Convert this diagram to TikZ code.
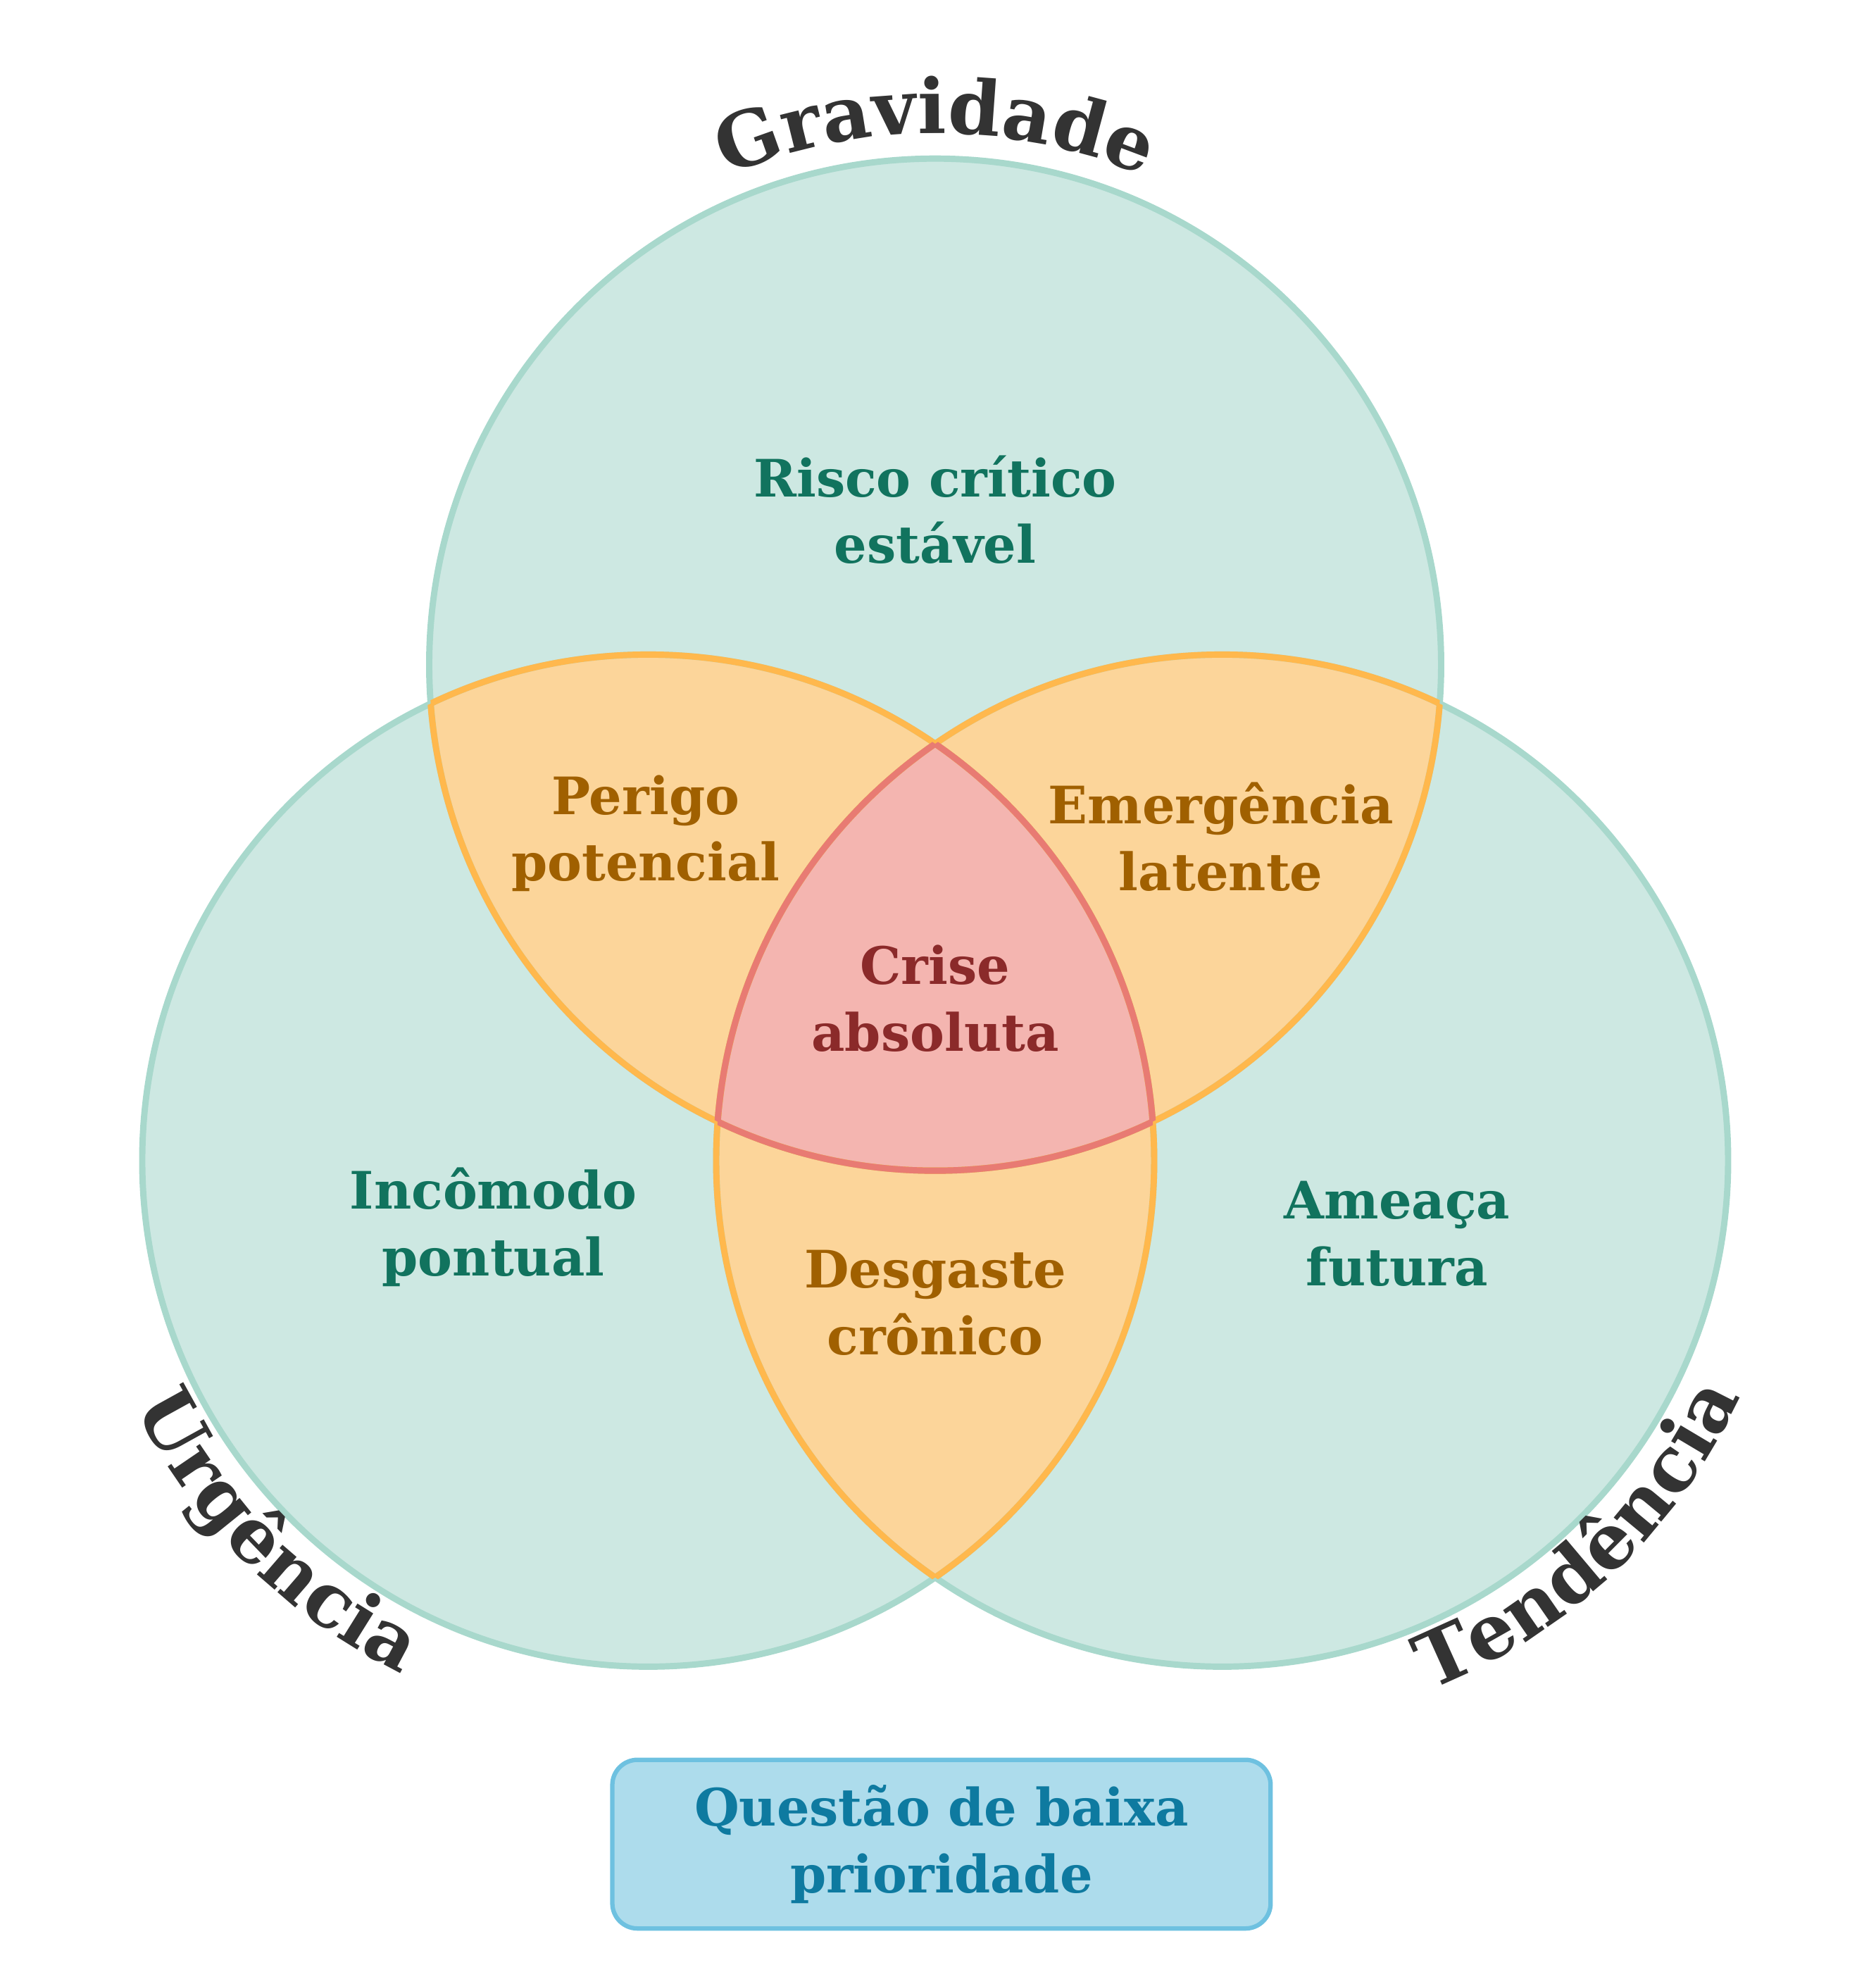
\documentclass[tikz,border=0pt]{standalone}
\usepackage{fontspec}
\setmainfont{DejaVu Serif}
\usetikzlibrary{decorations.text}
\definecolor{tealfill}{HTML}{CDE8E2}
\definecolor{tealline}{HTML}{A8D8CC}
\definecolor{orfill}{HTML}{FCD59A}
\definecolor{orline}{HTML}{FFB84D}
\definecolor{redfill}{HTML}{F4B5B0}
\definecolor{redline}{HTML}{E87B73}
\definecolor{tealtxt}{HTML}{11735E}
\definecolor{ortxt}{HTML}{A06000}
\definecolor{redtxt}{HTML}{8B2A2A}
\definecolor{boxfill}{HTML}{ADDCEC}
\definecolor{boxline}{HTML}{6EC1E0}
\definecolor{boxtxt}{HTML}{0E7AA0}
\definecolor{ttl}{HTML}{333333}
\tikzset{
 lbl/.style={align=center,font=\fontsize{41}{53}\selectfont\bfseries},
 ring/.style={line width=5pt}
}
\begin{document}
\begin{tikzpicture}[x=1pt,y=1pt]
\useasboundingbox (0,0) rectangle (1490,1561);
\def\R{402}
\coordinate (G) at (743,1033);
\coordinate (U) at (515,639);
\coordinate (T) at (971,639);
% fills
\fill[tealfill] (G) circle (\R) (U) circle (\R) (T) circle (\R);
\begin{scope}\clip (G) circle (\R); \fill[orfill] (U) circle (\R); \fill[orfill] (T) circle (\R);\end{scope}
\begin{scope}\clip (U) circle (\R); \fill[orfill] (T) circle (\R);\end{scope}
\begin{scope}\clip (G) circle (\R); \clip (U) circle (\R); \fill[redfill] (T) circle (\R);\end{scope}
% outlines
\draw[ring,tealline] (G) circle (\R) (U) circle (\R) (T) circle (\R);
\begin{scope}\clip (G) circle (\R); \draw[ring,orline] (U) circle (\R) (T) circle (\R);\end{scope}
\begin{scope}\clip (U) circle (\R); \draw[ring,orline] (G) circle (\R) (T) circle (\R);\end{scope}
\begin{scope}\clip (T) circle (\R); \draw[ring,orline] (G) circle (\R) (U) circle (\R);\end{scope}
\begin{scope}\clip (G) circle (\R); \clip (U) circle (\R); \draw[ring,redline] (T) circle (\R);\end{scope}
\begin{scope}\clip (G) circle (\R); \clip (T) circle (\R); \draw[ring,redline] (U) circle (\R);\end{scope}
\begin{scope}\clip (U) circle (\R); \clip (T) circle (\R); \draw[ring,redline] (G) circle (\R);\end{scope}
% titles
\path[decorate,decoration={text along path,text align=center,
  text={|\fontsize{60}{60}\bfseries\color{ttl}|Gravidade}}]
  ([shift={(122:422)}]G) arc[start angle=122,end angle=58,radius=422];
\path[decorate,decoration={text along path,text align=center,
  text={|\fontsize{60}{60}\bfseries\color{ttl}|Urgência}}]
  ([shift={(198:452)}]U) arc[start angle=198,end angle=252,radius=452];
\path[decorate,decoration={text along path,text align=center,
  text={|\fontsize{60}{60}\bfseries\color{ttl}|Tendência}}]
  ([shift={(284:452)}]T) arc[start angle=284,end angle=343,radius=452];
% labels
\node[lbl,text=tealtxt] (rc) at (743,1156) {Risco crítico\\estável};
\node[lbl,text=ortxt] (pp) at (513,899) {Perigo\\potencial};
\node[lbl,text=ortxt] (el) at (970,896) {Emergência\\latente};
\node[lbl,text=redtxt] (ca) at (743,768) {Crise\\absoluta};
\node[lbl,text=tealtxt] (ip) at (392,586) {Incômodo\\pontual};
\node[lbl,text=ortxt] (dc) at (743,526) {Desgaste\\crônico};
\node[lbl,text=tealtxt] (af) at (1110,581) {Ameaça\\futura};
\node[lbl,text=boxtxt,fill=boxfill,draw=boxline,line width=3.5pt,rounded corners=20pt,
  minimum width=523pt,minimum height=134pt,inner sep=0pt] (bx) at (748,96) {Questão de baixa\\prioridade};
\end{tikzpicture}
\end{document}
